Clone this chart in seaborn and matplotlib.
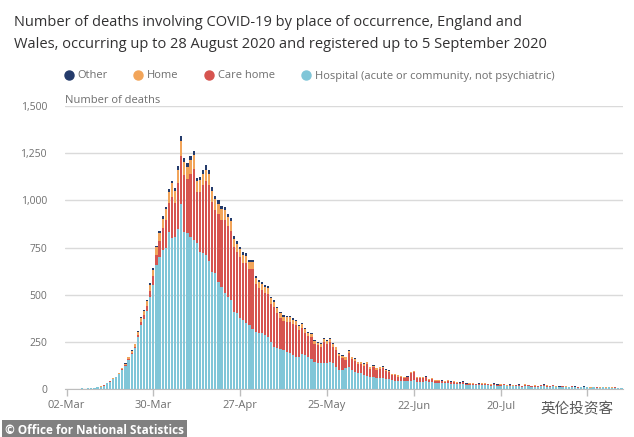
import pandas as pd
import numpy as np
import seaborn as sns
import matplotlib
matplotlib.use("Agg")
import matplotlib.pyplot as plt
from matplotlib.lines import Line2D

# === daily deaths by place of occurrence, 02-Mar to 28-Aug 2020 ===
hospital = [
    0, 1, 0, 2, 1, 3, 2, 4, 4, 6,
    9, 13, 18, 30, 39, 54, 61, 80, 102, 124,
    155, 186, 217, 275, 340, 372, 412, 487, 552, 655,
    700, 737, 747, 834, 800, 807, 850, 980, 834, 826,
    807, 790, 772, 728, 720, 710, 680, 622, 615, 569,
    542, 509, 489, 472, 410, 403, 376, 366, 350, 339,
    320, 304, 297, 298, 286, 277, 251, 224, 215, 210,
    207, 198, 192, 180, 171, 171, 185, 180, 171, 157,
    145, 136, 136, 136, 140, 145, 136, 118, 101, 101,
    110, 118, 101, 92, 83, 83, 74, 69, 65, 62,
    57, 60, 58, 55, 52, 46, 44, 42, 42, 40,
    40, 45, 46, 38, 38, 39, 40, 35, 36, 32,
    33, 30, 30, 32, 27, 28, 26, 25, 27, 21,
    23, 22, 20, 21, 23, 22, 19, 18, 20, 17,
    18, 19, 15, 17, 14, 15, 16, 12, 16, 14,
    12, 13, 11, 14, 15, 13, 12, 14, 11, 10,
    12, 10, 8, 11, 10, 7, 8, 10, 8, 6,
    8, 7, 6, 8, 6, 9, 6, 7, 5, 3,
]
care_home = [
    0, 0, 0, 0, 0, 0, 0, 0, 0, 0,
    0, 0, 1, 0, 1, 1, 2, 2, 3, 4,
    5, 6, 8, 11, 16, 20, 26, 35, 45, 56,
    82, 116, 150, 152, 220, 180, 240, 255, 300, 285,
    335, 375, 270, 318, 360, 390, 400, 370, 335, 356,
    355, 386, 373, 368, 342, 324, 323, 304, 318, 295,
    315, 250, 237, 228, 222, 227, 201, 212, 187, 168,
    154, 159, 165, 167, 168, 142, 139, 118, 110, 117,
    94, 95, 89, 112, 100, 102, 88, 89, 72, 64,
    46, 73, 56, 56, 48, 49, 49, 63, 42, 54,
    44, 46, 52, 40, 37, 28, 28, 24, 20, 18,
    21, 38, 42, 21, 19, 19, 21, 13, 16, 11,
    12, 11, 9, 11, 8, 9, 7, 6, 8, 5,
    6, 6, 4, 5, 6, 6, 5, 4, 6, 3,
    4, 5, 3, 4, 3, 4, 5, 3, 6, 5,
    3, 4, 3, 5, 6, 4, 3, 5, 2, 2,
    3, 3, 2, 3, 2, 1, 2, 2, 1, 1,
    2, 1, 1, 1, 1, 2, 1, 1, 1, 0,
]
home = [
    0, 0, 0, 0, 0, 0, 0, 0, 1, 0,
    1, 1, 1, 2, 2, 2, 3, 3, 5, 6,
    8, 10, 12, 15, 19, 22, 26, 31, 35, 40,
    43, 50, 55, 60, 70, 62, 70, 80, 70, 68,
    72, 74, 60, 60, 60, 63, 60, 58, 56, 56,
    55, 52, 50, 48, 43, 43, 41, 41, 38, 38,
    37, 34, 34, 32, 32, 31, 28, 27, 25, 24,
    23, 22, 22, 21, 20, 19, 19, 18, 17, 17,
    15, 15, 15, 15, 15, 16, 13, 13, 12, 11,
    11, 12, 10, 10, 10, 9, 9, 9, 8, 8,
    8, 9, 9, 8, 8, 6, 6, 6, 6, 5,
    5, 6, 6, 5, 5, 5, 5, 4, 4, 3,
    3, 3, 3, 3, 3, 3, 3, 3, 3, 2,
    3, 2, 2, 2, 3, 3, 2, 2, 2, 2,
    2, 2, 2, 2, 2, 2, 2, 2, 2, 2,
    2, 2, 2, 2, 2, 2, 2, 2, 2, 1,
    2, 1, 1, 1, 1, 1, 1, 1, 1, 1,
    1, 1, 1, 1, 1, 1, 1, 1, 1, 1,
]
other = [
    0, 0, 0, 0, 0, 0, 0, 0, 0, 0,
    0, 0, 0, 0, 0, 1, 0, 1, 1, 2,
    2, 3, 3, 4, 5, 6, 6, 7, 8, 9,
    10, 12, 13, 14, 15, 16, 20, 25, 21, 21,
    21, 21, 18, 19, 20, 22, 20, 20, 19, 19,
    18, 18, 18, 17, 15, 15, 15, 14, 14, 13,
    13, 12, 12, 11, 11, 11, 9, 9, 9, 8,
    8, 8, 8, 8, 7, 7, 7, 7, 6, 6,
    6, 5, 5, 5, 5, 5, 5, 4, 4, 4,
    4, 4, 4, 4, 4, 4, 4, 4, 3, 3,
    3, 3, 3, 3, 3, 2, 2, 2, 2, 2,
    2, 3, 3, 2, 2, 2, 2, 2, 2, 2,
    2, 2, 2, 2, 2, 2, 2, 2, 2, 2,
    2, 2, 2, 2, 2, 2, 2, 2, 2, 2,
    2, 2, 2, 2, 1, 1, 1, 1, 1, 1,
    1, 1, 1, 1, 1, 1, 1, 1, 1, 1,
    1, 1, 1, 1, 1, 1, 1, 1, 1, 1,
    1, 1, 0, 1, 1, 1, 0, 1, 0, 0,
]

days = pd.date_range("2020-03-02", "2020-08-28", freq="D")
day_labels = [d.strftime("%d-%b") for d in days]
tick_every = 28
y_ticks = [0, 250, 500, 750, 1000, 1250, 1500]

series_names = ["Other", "Home", "Care home", "Hospital (acute or community, not psychiatric)"]
colours = {"Other": "#243b6b", "Home": "#f2a55a", "Care home": "#d6544f",
           "Hospital (acute or community, not psychiatric)": "#80c6d8"}

# === cumulated heights for the stack ===
df = pd.DataFrame({"jour": day_labels, "hospital": hospital, "care": care_home,
                   "home": home, "other": other})
df["c1"] = df["hospital"]
df["c2"] = df["c1"] + df["care"]
df["c3"] = df["c2"] + df["home"]
df["c4"] = df["c3"] + df["other"]

sns.set_style("white")
plt.rcParams["font.family"] = ["Open Sans", "DejaVu Sans"]

grey_txt = "#6f6f6f"

fig = plt.figure(figsize=(6.34, 4.37), dpi=100)
ax = fig.add_axes([65 / 634, 1 - 389 / 437, 558 / 634, 283 / 437])

for col, name in zip(["c4", "c3", "c2", "c1"], series_names):
    sns.barplot(data=df, x="jour", y=col, order=day_labels, color=colours[name],
                saturation=1, width=0.72, linewidth=0, errorbar=None, ax=ax, zorder=3)

ax.set_ylim(0, 1500)
ax.set_xlim(-0.5, len(day_labels) - 0.5)
ax.set_yticks(y_ticks)
ax.set_yticklabels([f"{v:,}" for v in y_ticks], color=grey_txt, fontsize=7.5)
pos = list(range(0, len(day_labels), tick_every))
ax.set_xticks(pos)
labs = [day_labels[p] for p in pos]
labs[-1] = ""
ax.set_xticklabels(labs, color=grey_txt, fontsize=8)
ax.set_xlabel("")
ax.set_ylabel("")
ax.yaxis.grid(True, color="#dadada", linewidth=1, zorder=0)
ax.set_axisbelow(True)
for s in ["top", "right", "left"]:
    ax.spines[s].set_visible(False)
ax.spines["bottom"].set_color("#bdbdbd")
ax.tick_params(axis="x", length=5, width=1, color="#bdbdbd", pad=3, bottom=True)
ax.tick_params(axis="y", length=0, pad=13)

ax.text(0, 1.0, "Number of deaths", transform=ax.transAxes, fontsize=8,
        color=grey_txt, ha="left", va="bottom")

# === titre ===
fig.text(14 / 634, 1 - 22 / 437,
         "Number of deaths involving COVID-19 by place of occurrence, England and",
         fontsize=10.5, color="#323132", va="center", ha="left")
fig.text(14 / 634, 1 - 44 / 437,
         "Wales, occurring up to 28 August 2020 and registered up to 5 September 2020",
         fontsize=10.5, color="#323132", va="center", ha="left")

# === légende ===
handles = [Line2D([], [], marker="o", linestyle="", markersize=6.5,
                  markerfacecolor=colours[n], markeredgecolor=colours[n]) for n in series_names]
leg = fig.legend(handles, series_names, loc="center left", ncol=4,
                 bbox_to_anchor=(53 / 634, 1 - 76 / 437), frameon=False,
                 fontsize=8, handletextpad=0.3, columnspacing=2.25, handlelength=1)
for t in leg.get_texts():
    t.set_color(grey_txt)

# === sources / filigrane ===
fig.text(5 / 634, 1 - 430 / 437, "© Office for National Statistics", color="white",
         fontsize=8.5, fontweight="bold", va="center", ha="left",
         bbox=dict(facecolor="#808080", edgecolor="none", pad=2.5))
fig.text(540 / 634, 1 - 409 / 437, "英伦投资客", color="#5a5a5a", fontsize=10.5,
         family=["Noto Sans CJK SC", "DejaVu Sans"], va="center", ha="left",
         bbox=dict(facecolor="white", edgecolor="none", pad=1, alpha=0.8))

fig.savefig("out.png", dpi=100)
